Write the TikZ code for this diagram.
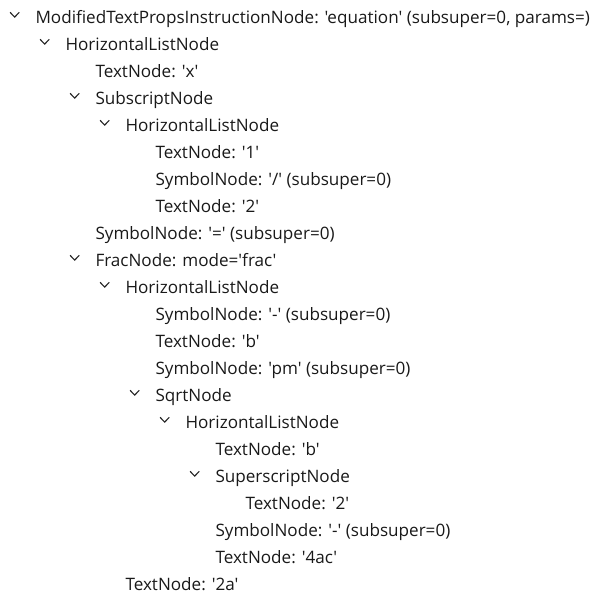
\documentclass[tikz,border=0pt]{standalone}
\usepackage{fontspec}
\setmainfont{Open Sans}[Ligatures=TeXOff]
\begin{document}
\begin{tikzpicture}[x=1pt,y=-1pt,
  item/.style={anchor=base west,inner sep=0pt,outer sep=0pt,font=\fontsize{17.1}{20}\selectfont,text=black!90},
  chev/.style={line width=1.1pt,draw=black!85,line join=miter}]
\useasboundingbox (0,0) rectangle (597,600);
\def\rowsp{27}
% rows: index, level, text, has chevron
\newcommand{\tvrow}[4]{%
  \pgfmathsetmacro{\by}{23.3+#1*\rowsp}%
  \pgfmathsetmacro{\tx}{35.5+#2*30}%
  \node[item] (r#1) at (\tx,\by) {#3};%
  \ifnum#4=1
    \pgfmathsetmacro{\cx}{14.7+#2*30}%
    \draw[chev] (\cx-4.6,\by-11) -- (\cx,\by-6.2) -- (\cx+4.6,\by-11);%
  \fi}
\tvrow{0}{0}{ModifiedTextPropsInstructionNode: 'equation' (subsuper=0, params=)}{1}
\tvrow{1}{1}{HorizontalListNode}{1}
\tvrow{2}{2}{TextNode: 'x'}{0}
\tvrow{3}{2}{SubscriptNode}{1}
\tvrow{4}{3}{HorizontalListNode}{1}
\tvrow{5}{4}{TextNode: '1'}{0}
\tvrow{6}{4}{SymbolNode: '/' (subsuper=0)}{0}
\tvrow{7}{4}{TextNode: '2'}{0}
\tvrow{8}{2}{SymbolNode: '=' (subsuper=0)}{0}
\tvrow{9}{2}{FracNode: mode='frac'}{1}
\tvrow{10}{3}{HorizontalListNode}{1}
\tvrow{11}{4}{SymbolNode: '-' (subsuper=0)}{0}
\tvrow{12}{4}{TextNode: 'b'}{0}
\tvrow{13}{4}{SymbolNode: 'pm' (subsuper=0)}{0}
\tvrow{14}{4}{SqrtNode}{1}
\tvrow{15}{5}{HorizontalListNode}{1}
\tvrow{16}{6}{TextNode: 'b'}{0}
\tvrow{17}{6}{SuperscriptNode}{1}
\tvrow{18}{7}{TextNode: '2'}{0}
\tvrow{19}{6}{SymbolNode: '-' (subsuper=0)}{0}
\tvrow{20}{6}{TextNode: '4ac'}{0}
\tvrow{21}{3}{TextNode: '2a'}{0}
\end{tikzpicture}
\end{document}
